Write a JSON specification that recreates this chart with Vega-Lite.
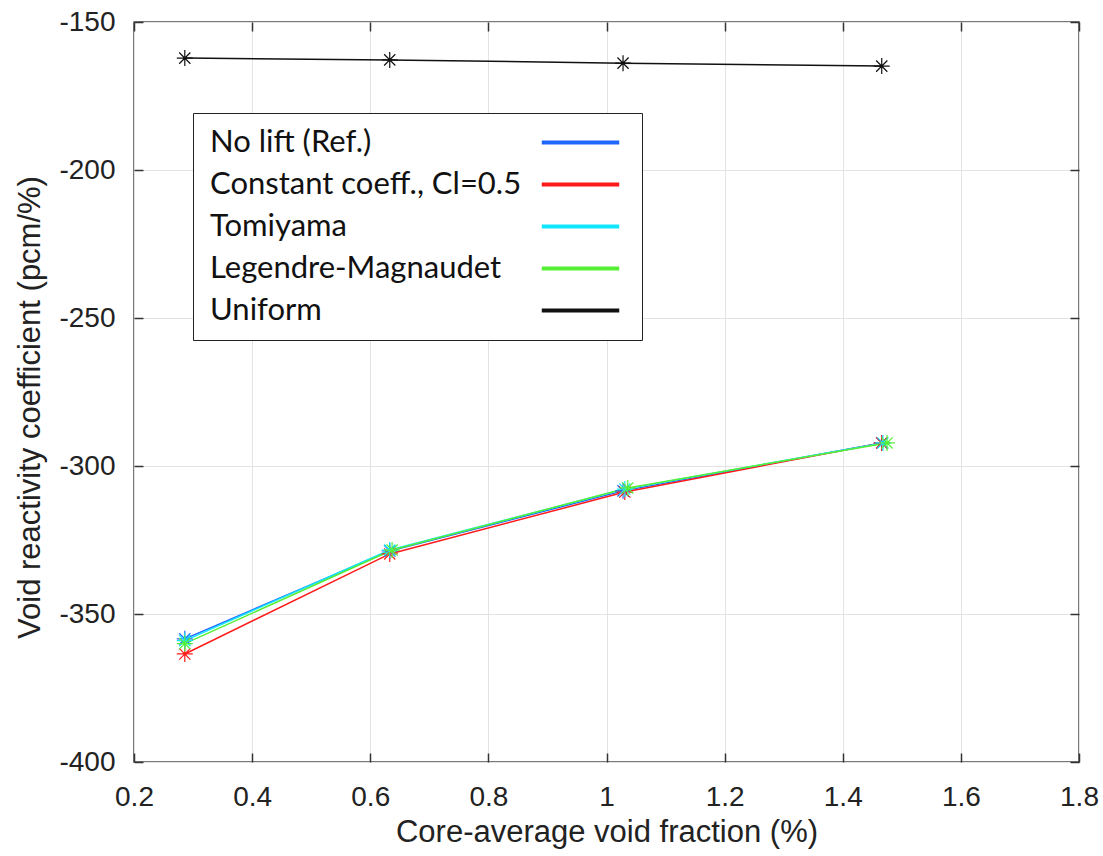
{
  "$schema": "https://vega.github.io/schema/vega-lite/v6.json",
  "width": 945,
  "height": 740,
  "autosize": {"type": "none"},
  "padding": {"left": 134, "top": 22, "right": 24, "bottom": 94},
  "background": "white",
  "config": {
    "view": {"stroke": "#4d4d4d", "strokeWidth": 1.5},
    "font": "Liberation Sans",
    "axis": {
      "labelFont": "Liberation Sans",
      "titleFont": "Liberation Sans",
      "labelFontSize": 28,
      "titleFontSize": 31,
      "labelColor": "#222222",
      "titleColor": "#222222",
      "titleFontWeight": "normal",
      "gridColor": "#e3e3e3",
      "gridWidth": 1,
      "domain": false,
      "tickColor": "#333333",
      "tickSize": -9,
      "tickWidth": 1.5
    }
  },
  "data": {
    "values": [
      {"model": "Uniform", "x": 0.286, "y": -162.2},
      {"model": "Uniform", "x": 0.633, "y": -162.8},
      {"model": "Uniform", "x": 1.028, "y": -163.9},
      {"model": "Uniform", "x": 1.466, "y": -164.9},
      {"model": "No lift (Ref.)", "x": 0.286, "y": -358.4},
      {"model": "No lift (Ref.)", "x": 0.633, "y": -328.7},
      {"model": "No lift (Ref.)", "x": 1.028, "y": -308.4},
      {"model": "No lift (Ref.)", "x": 1.466, "y": -292.2},
      {"model": "Constant coeff., Cl=0.5", "x": 0.286, "y": -363.5},
      {"model": "Constant coeff., Cl=0.5", "x": 0.633, "y": -329.7},
      {"model": "Constant coeff., Cl=0.5", "x": 1.031, "y": -308.8},
      {"model": "Constant coeff., Cl=0.5", "x": 1.466, "y": -292.2},
      {"model": "Tomiyama", "x": 0.286, "y": -359.0},
      {"model": "Tomiyama", "x": 0.633, "y": -328.4},
      {"model": "Tomiyama", "x": 1.031, "y": -307.8},
      {"model": "Tomiyama", "x": 1.468, "y": -292.2},
      {"model": "Legendre-Magnaudet", "x": 0.286, "y": -360.0},
      {"model": "Legendre-Magnaudet", "x": 0.637, "y": -328.4},
      {"model": "Legendre-Magnaudet", "x": 1.036, "y": -307.4},
      {"model": "Legendre-Magnaudet", "x": 1.475, "y": -292.2}
    ]
  },
  "layer": [
    {
      "mark": {"type": "line", "strokeWidth": 1.5},
      "encoding": {
        "x": {
          "field": "x", "type": "quantitative",
          "scale": {"domain": [0.2, 1.8], "nice": false, "zero": false},
          "axis": {
            "title": "Core-average void fraction (%)",
            "values": [0.2, 0.4, 0.6, 0.8, 1, 1.2, 1.4, 1.6, 1.8],
            "format": ".2~f",
            "labelPadding": 30,
            "titlePadding": 6,
            "labelFlush": false
          }
        },
        "y": {
          "field": "y", "type": "quantitative",
          "scale": {"domain": [-400, -150], "nice": false, "zero": false},
          "axis": {
            "title": "Void reactivity coefficient (pcm/%)",
            "values": [-400, -350, -300, -250, -200, -150],
            "labelExpr": "'' + datum.value",
            "labelPadding": 28,
            "titlePadding": 12,
            "titleY": 385,
            "labelFlush": false
          }
        },
        "color": {
          "field": "model", "type": "nominal",
          "scale": {
            "domain": ["No lift (Ref.)", "Constant coeff., Cl=0.5", "Tomiyama", "Legendre-Magnaudet", "Uniform"],
            "range": ["#1f66ff", "#ff1a1a", "#12e6ff", "#55f033", "#111111"]
          },
          "legend": {
            "orient": "none",
            "legendX": 59,
            "legendY": 91,
            "title": null,
            "labelFont": "Lato",
            "labelFontSize": 31,
            "labelColor": "#111111",
            "labelLimit": 500,
            "symbolType": "M-5,0L5,0",
            "symbolSize": 240,
            "symbolStrokeWidth": 4,
            "symbolOffset": 358,
            "labelOffset": -386,
            "rowPadding": 10,
            "padding": 14,
            "strokeColor": "#222222",
            "fillColor": "white"
          }
        }
      }
    },
    {
      "mark": {
        "type": "point",
        "shape": "M-1,0L1,0M0,-1L0,1M-0.7,-0.7L0.7,0.7M-0.7,0.7L0.7,-0.7",
        "size": 256,
        "filled": false,
        "strokeWidth": 1.2,
        "opacity": 1
      },
      "encoding": {
        "x": {
          "field": "x", "type": "quantitative",
          "axis": {
            "orient": "top", "labels": false, "grid": false, "title": null,
            "values": [0.2, 0.4, 0.6, 0.8, 1, 1.2, 1.4, 1.6, 1.8]
          }
        },
        "y": {
          "field": "y", "type": "quantitative",
          "axis": {
            "orient": "right", "labels": false, "grid": false, "title": null,
            "values": [-400, -350, -300, -250, -200, -150]
          }
        },
        "color": {"field": "model", "type": "nominal"}
      }
    }
  ],
  "resolve": {"axis": {"x": "independent", "y": "independent"}}
}
